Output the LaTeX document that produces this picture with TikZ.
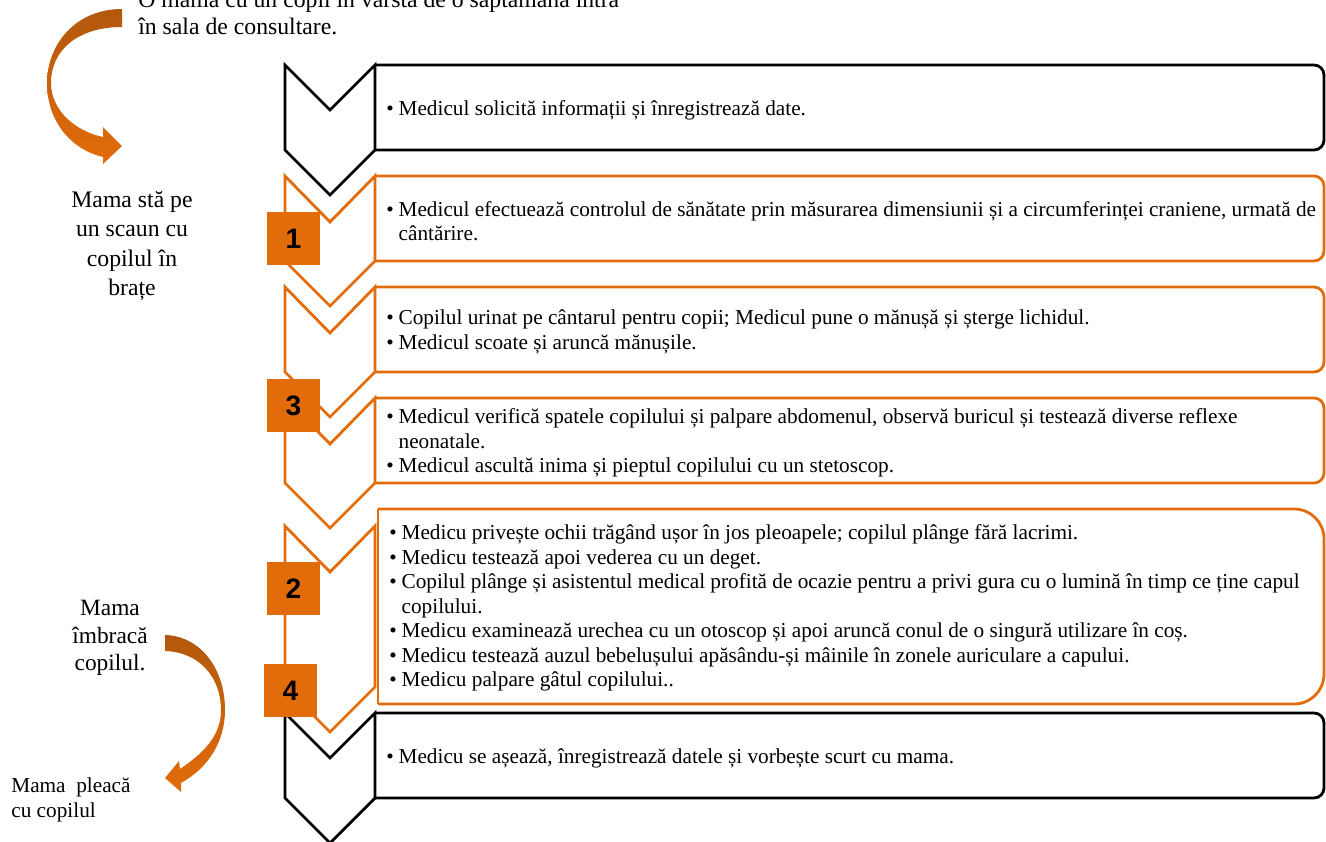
\documentclass[tikz,border=0pt]{standalone}
\usepackage{fontspec}
\setmainfont{Liberation Serif}
\newfontfamily\numfont{Liberation Sans}
\usepackage{xcolor}
\definecolor{stepor}{RGB}{227,108,10}
\definecolor{arrbrown}{RGB}{178,88,12}
\newcommand{\bitem}{\makebox[7pt][l]{•}}
\newcommand{\bindent}{\hspace*{7pt}}

\begin{document}
\begin{tikzpicture}[x=0.02cm, y=-0.02cm,
  chev/.style={line width=1.6pt},
  boxline/.style={line width=1.6pt, rounded corners=5.7pt},
  boxtext/.style={anchor=west, align=left, inner sep=0pt, font=\fontsize{12.1}{14}\selectfont},
  sidetext/.style={align=center, inner sep=0pt, font=\fontsize{13.5}{16.7}\selectfont},
  numsq/.style={fill=stepor, minimum size=1.06cm, inner sep=0pt, font=\numfont\bfseries\fontsize{16}{16}\selectfont}]
\useasboundingbox (0,0) rectangle (1326,842);
\clip (0,0) rectangle (1326,842);

\draw[chev] (285,65) -- (330,110) -- (375,65) -- (375,150) -- (330,195) -- (285,150) -- cycle;
\draw[chev, stepor] (285,176) -- (330,222) -- (375,176) -- (375,261) -- (330,306) -- (285,261) -- cycle;
\draw[chev, stepor] (285,287) -- (330,333) -- (375,287) -- (375,372) -- (330,417) -- (285,372) -- cycle;
\draw[chev, stepor] (285,398) -- (330,444) -- (375,398) -- (375,483) -- (330,528) -- (285,483) -- cycle;
\draw[chev, stepor] (285,526) -- (330,572) -- (375,526) -- (375,687) -- (330,732) -- (285,687) -- cycle;
\draw[chev] (285,713) -- (330,758) -- (375,713) -- (375,798) -- (330,843) -- (285,798) -- cycle;

\draw[boxline] (375,65) -- (1324,65) -- (1324,150) -- (375,150);
\draw[boxline, stepor] (375,176) -- (1324,176) -- (1324,261) -- (375,261);
\draw[boxline, stepor] (375,287) -- (1324,287) -- (1324,372) -- (375,372);
\draw[boxline, stepor] (375,398) -- (1324,398) -- (1324,483) -- (375,483);
\draw[boxline, stepor, rounded corners=17pt] (378,509) -- (1324,509) -- (1324,704) -- (378,704);
\draw[chev, stepor] (378,509) -- (378,704);
\draw[boxline] (375,713) -- (1324,713) -- (1324,798) -- (375,798);

\node (info) [boxtext] at (386,110) {\bitem Medicul solicită informații și înregistrează date.};
\node (measure) [boxtext] at (386,221) {\bitem Medicul efectuează controlul de sănătate prin măsurarea dimensiunii și a circumferinței craniene, urmată de\\\bindent cântărire.};
\node (weigh) [boxtext] at (386,332) {\bitem Copilul urinat pe cântarul pentru copii; Medicul pune o mănușă și șterge lichidul.\\\bitem Medicul scoate și aruncă mănușile.};
\node (reflex) [boxtext] at (386,443) {\bitem Medicul verifică spatele copilului și palpare abdomenul, observă buricul și testează diverse reflexe\\\bindent neonatale.\\\bitem Medicul ascultă inima și pieptul copilului cu un stetoscop.};
\node (senses) [boxtext] at (389,608) {\bitem Medicu privește ochii trăgând ușor în jos pleoapele; copilul plânge fără lacrimi.\\\bitem Medicu testează apoi vederea cu un deget.\\\bitem Copilul plânge și asistentul medical profită de ocazie pentru a privi gura cu o lumină în timp ce ține capul\\\bindent copilului.\\\bitem Medicu examinează urechea cu un otoscop și apoi aruncă conul de o singură utilizare în coș.\\\bitem Medicu testează auzul bebelușului apăsându-și mâinile în zonele auriculare a capului.\\\bitem Medicu palpare gâtul copilului..};
\node (notes) [boxtext] at (386,758) {\bitem Medicu se așează, înregistrează datele și vorbește scurt cu mama.};

\node (enter) [anchor=south west, align=left, inner sep=0pt, font=\fontsize{13.5}{15.3}\selectfont] at (138,35) {O mama cu un copil în vârsta de o săptamână intră\\în sala de consultare.};
\node (sit) [sidetext] at (132,246) {Mama stă pe\\un scaun cu\\copilul în\\brațe};
\node (dress) [sidetext, font=\fontsize{13.3}{15.6}\selectfont] at (110,638) {Mama\\îmbracă\\copilul.};
\node (leave) [anchor=west, align=left, inner sep=0pt, font=\fontsize{12.1}{14.2}\selectfont] at (11,800) {Mama\ \ pleacă\\cu copilul};

\shade[top color=arrbrown, bottom color=stepor] (122,9) .. controls (75,9) and (47,45) .. (47,83) .. controls (47,122) and (72,150) .. (103,157) -- (103,164) -- (122,146) -- (103,127) -- (103,137) .. controls (78,132) and (51,112) .. (51,83) .. controls (51,50) and (78,27) .. (122,27) -- cycle;
\shade[top color=arrbrown, bottom color=stepor] (165,635) .. controls (200,636) and (225,668) .. (225,710) .. controls (225,742) and (208,768) .. (181,783) -- (181,792) -- (165,778) -- (179,761) -- (180,769) .. controls (205,752) and (221,735) .. (221,710) .. controls (221,678) and (200,652) .. (165,651) -- cycle;

\node (s1) [numsq] at (293.5,238.5) {1};
\node (s3) [numsq] at (293.5,405.5) {3};
\node (s2) [numsq] at (293.5,588.5) {2};
\node (s4) [numsq] at (290.5,690.5) {4};
\end{tikzpicture}
\end{document}
